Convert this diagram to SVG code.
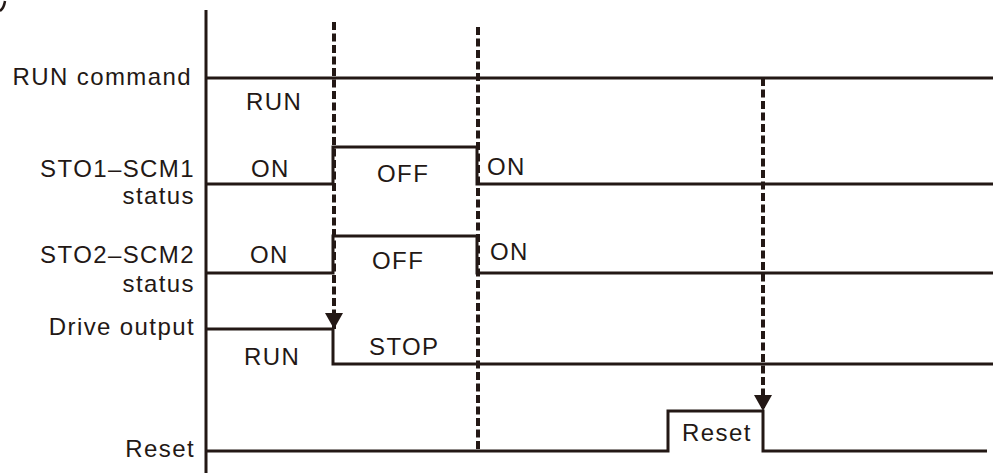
<svg xmlns="http://www.w3.org/2000/svg" width="993" height="473" viewBox="0 0 993 473">
<style>
  .sig{fill:none;stroke:#231815;stroke-width:3;stroke-linejoin:miter}
  .dash{fill:none;stroke:#231815;stroke-width:4;stroke-dasharray:8 3.5}
  text{font-family:"Liberation Sans",Arial,sans-serif;font-size:24px;fill:#231815;letter-spacing:1.4px}
  .lbl{text-anchor:end}
</style>
<defs>
  <marker id="arr" viewBox="0 0 16 18" refX="16" refY="9" markerWidth="16" markerHeight="18" markerUnits="userSpaceOnUse" orient="auto">
    <path d="M0,0 L16,9 L0,18 Z" fill="#231815" stroke="none"/>
  </marker>
</defs>
<rect width="993" height="473" fill="#fff"/>
<path d="M0,11 Q4,8 5,1" fill="none" stroke="#231815" stroke-width="2.5"/>
<g id="axis">
  <line class="sig" x1="206" y1="10" x2="206" y2="473"/>
</g>
<g id="run-command">
  <text class="lbl" x="192" y="85">RUN command</text>
  <path class="sig" d="M206,78 H993"/>
  <text x="246" y="110">RUN</text>
</g>
<g id="sto1">
  <text class="lbl" x="195" y="177">STO1–SCM1</text>
  <text class="lbl" x="195" y="204">status</text>
  <path class="sig" d="M206,184 H333 V147 H477 V184 H993"/>
  <text x="251" y="177">ON</text>
  <text x="377" y="182">OFF</text>
  <text x="487" y="175">ON</text>
</g>
<g id="sto2">
  <text class="lbl" x="195" y="263">STO2–SCM2</text>
  <text class="lbl" x="195" y="292">status</text>
  <path class="sig" d="M206,273 H333 V236 H477 V273 H993"/>
  <text x="250" y="263">ON</text>
  <text x="372" y="269">OFF</text>
  <text x="490" y="260">ON</text>
</g>
<g id="drive-output">
  <text class="lbl" x="195" y="335">Drive output</text>
  <path class="sig" d="M206,329 H333 V364 H993"/>
  <text x="244" y="365">RUN</text>
  <text x="369" y="355">STOP</text>
</g>
<g id="reset">
  <text class="lbl" x="195" y="457">Reset</text>
  <path class="sig" d="M206,451 H668 V411 H763 V451 H987"/>
  <text x="682" y="441">Reset</text>
</g>
<g id="connectors">
  <line class="dash" x1="334" y1="22" x2="334" y2="329" marker-end="url(#arr)"/>
  <line class="dash" x1="478" y1="27" x2="478" y2="452"/>
  <line class="dash" x1="763" y1="78" x2="763" y2="411" marker-end="url(#arr)"/>
</g>
</svg>
